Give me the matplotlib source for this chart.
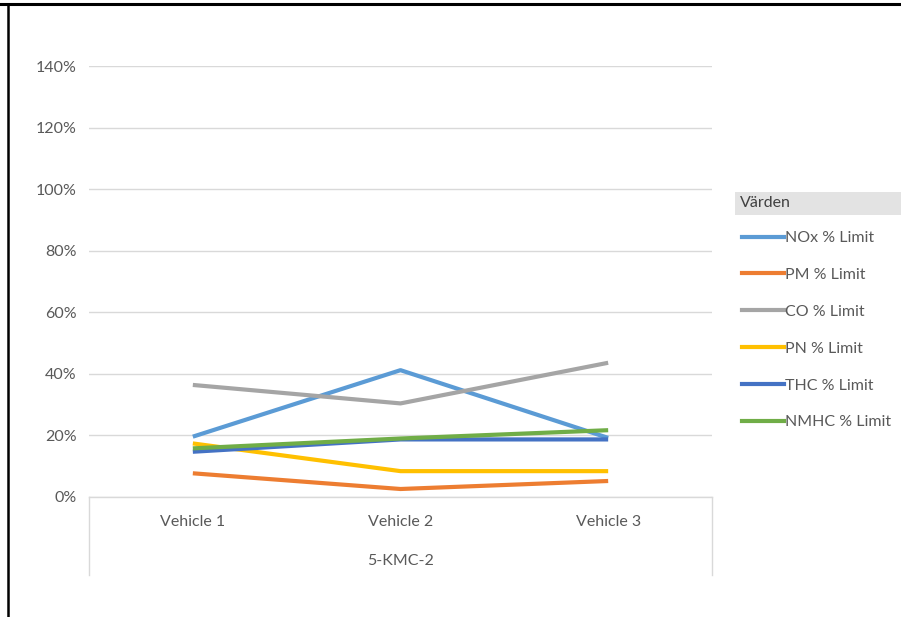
import matplotlib
matplotlib.use("Agg")
import matplotlib.pyplot as plt
from matplotlib.lines import Line2D
from matplotlib.ticker import FuncFormatter

# Emission results as share of the regulatory limit (%)
vehicles = ["Vehicle 1", "Vehicle 2", "Vehicle 3"]
group_label = "5-KMC-2"
series_names = ["NOx % Limit", "PM % Limit", "CO % Limit", "PN % Limit", "THC % Limit", "NMHC % Limit"]
nox = [19.6, 41.2, 19.2]
pm = [7.7, 2.6, 5.2]
co = [36.4, 30.4, 43.6]
pn = [17.4, 8.4, 8.4]
thc = [14.7, 18.7, 18.7]
nmhc = [15.8, 19.0, 21.7]
y_ticks = [0, 20, 40, 60, 80, 100, 120, 140]

series_values = [nox, pm, co, pn, thc, nmhc]
colors = ["#5B9BD5", "#ED7D31", "#A5A5A5", "#FFC000", "#4472C4", "#70AD47"]

W, H = 901, 617
fig = plt.figure(figsize=(W / 100, H / 100), dpi=100)
plt.rcParams["font.family"] = ["Lato", "DejaVu Sans"]
text_color = "#595959"
grid_color = "#D9D9D9"
fs = 11.5

ax = fig.add_axes([89 / W, 1 - 497 / H, (712 - 89) / W, (497 - 66) / H])
x = list(range(len(vehicles)))
for vals, col, name in zip(series_values, colors, series_names):
    ax.plot(x, vals, color=col, lw=3.0, solid_capstyle="butt", label=name, zorder=3)

ax.set_xlim(-0.5, len(vehicles) - 0.5)
ax.set_ylim(0, 140)
ax.set_yticks(y_ticks)
ax.yaxis.set_major_formatter(FuncFormatter(lambda v, p: f"{v:.0f}%"))
ax.grid(axis="y", color=grid_color, lw=1.0)
ax.set_axisbelow(True)
for s in ["top", "right", "left"]:
    ax.spines[s].set_visible(False)
ax.spines["bottom"].set_color(grid_color)
ax.spines["bottom"].set_linewidth(1.0)
ax.tick_params(axis="y", length=0, pad=9, labelsize=fs, labelcolor=text_color)
ax.set_xticks(x)
ax.set_xticklabels(vehicles)
ax.tick_params(axis="x", length=0, pad=13, labelsize=fs, labelcolor=text_color)

# Multi-level category box below the axis
trans = ax.get_xaxis_transform()
for xv in (-0.5, len(vehicles) - 0.5):
    ax.add_line(Line2D([xv, xv], [0, -(575 - 497) / (497 - 66)], transform=trans,
                       color=grid_color, lw=1.0, clip_on=False))
ax.text((len(vehicles) - 1) / 2, -(561 - 497) / (497 - 66), group_label, transform=trans,
        ha="center", va="center", fontsize=fs, color=text_color)

# Legend with header
fig.text(740 / W, 1 - 203 / H, "Värden", ha="left", va="center", fontsize=fs, color="#404040")
fig.patches.append(plt.Rectangle((735 / W, 1 - 215 / H), (W - 735) / W, 23 / H,
                                 transform=fig.transFigure, facecolor="#E3E3E3",
                                 edgecolor="none", zorder=0))
handles = [Line2D([0], [0], color=c, lw=3.0) for c in colors]
fig.legend(handles, series_names, loc="upper left", bbox_to_anchor=(742 / W, 1 - 231 / H),
           frameon=False, fontsize=fs, handlelength=2.6, handletextpad=0.1,
           labelspacing=1.42, borderpad=0, borderaxespad=0, labelcolor=text_color)

# Page frame lines
fig.add_artist(Line2D([0, 1], [1 - 3.5 / H, 1 - 3.5 / H], transform=fig.transFigure,
                      color="black", lw=2.2))
fig.add_artist(Line2D([8 / W, 8 / W], [0, 1 - 3.5 / H], transform=fig.transFigure,
                      color="black", lw=1.8))

fig.savefig("out.png", dpi=100)
